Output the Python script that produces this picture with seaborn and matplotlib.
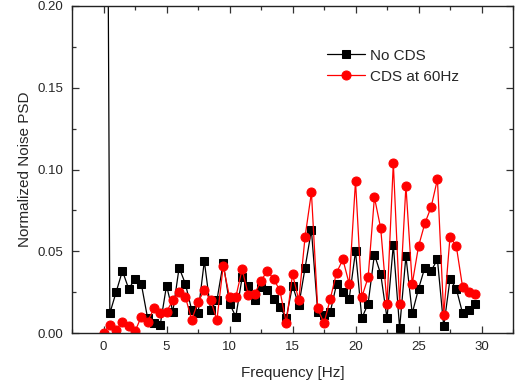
import numpy as np
import pandas as pd
import matplotlib
matplotlib.use("Agg")
import matplotlib.pyplot as plt
import seaborn as sns
from matplotlib.ticker import MultipleLocator

# === Data
freq = np.arange(0, 30, 0.5)

no_cds = [0.80, 0.012, 0.025, 0.038, 0.027, 0.033, 0.030, 0.009, 0.006, 0.005,
          0.029, 0.013, 0.040, 0.030, 0.014, 0.012, 0.044, 0.014, 0.020, 0.043,
          0.018, 0.010, 0.034, 0.029, 0.020, 0.028, 0.026, 0.021, 0.016, 0.009,
          0.029, 0.017, 0.040, 0.063, 0.013, 0.011, 0.013, 0.030, 0.025, 0.021,
          0.050, 0.009, 0.018, 0.048, 0.036, 0.009, 0.054, 0.003, 0.047, 0.012,
          0.027, 0.040, 0.038, 0.045, 0.004, 0.033, 0.027, 0.012, 0.014, 0.018]

cds_60 = [0.000, 0.005, 0.002, 0.007, 0.004, 0.001, 0.010, 0.007, 0.015, 0.012,
          0.013, 0.020, 0.025, 0.022, 0.008, 0.019, 0.026, 0.020, 0.008, 0.041,
          0.022, 0.022, 0.039, 0.023, 0.024, 0.032, 0.038, 0.033, 0.026, 0.006,
          0.036, 0.020, 0.059, 0.086, 0.015, 0.006, 0.021, 0.037, 0.045, 0.030,
          0.093, 0.022, 0.034, 0.083, 0.064, 0.018, 0.104, 0.018, 0.090, 0.030,
          0.053, 0.067, 0.077, 0.094, 0.011, 0.059, 0.053, 0.028, 0.025, 0.024]

series_names = ["No CDS", "CDS at 60Hz"]

df = pd.DataFrame({"Frequency": freq, "No CDS": no_cds, "CDS at 60Hz": cds_60})

# === Style
sns.set_style("ticks")
plt.rcParams['font.family'] = ['Liberation Sans', 'DejaVu Sans']

fig = plt.figure(figsize=(5.17, 3.92), dpi=100)
ax = fig.add_axes([0.1393, 0.1505, 0.8530, 0.8342])

sns.lineplot(data=df, x="Frequency", y="No CDS", ax=ax, color="black",
             marker="s", markersize=5.2, markeredgecolor="black", linewidth=0.9,
             label=series_names[0])
sns.lineplot(data=df, x="Frequency", y="CDS at 60Hz", ax=ax, color="red",
             marker="o", markersize=6.5, markeredgecolor="red", linewidth=0.9,
             label=series_names[1])

ax.set_xlim(-2.5, 32.5)
ax.set_ylim(0, 0.20)
ax.xaxis.set_major_locator(MultipleLocator(5))
ax.xaxis.set_minor_locator(MultipleLocator(2.5))
ax.yaxis.set_major_locator(MultipleLocator(0.05))
ax.yaxis.set_minor_locator(MultipleLocator(0.025))
ax.yaxis.set_major_formatter(matplotlib.ticker.FormatStrFormatter("%.2f"))

ax.tick_params(which="both", direction="in", top=True, right=True,
               labelsize=9.5, color="#333333", width=0.9)
ax.tick_params(which="major", length=5, pad=6)
ax.tick_params(which="minor", length=3)
for sp in ax.spines.values():
    sp.set_visible(True)
    sp.set_linewidth(1.0)
    sp.set_color("#222222")

ax.set_xlabel("Frequency [Hz]", fontsize=11, labelpad=9)
ax.set_ylabel("Normalized Noise PSD", fontsize=11, labelpad=4)

ax.legend(loc="upper left", bbox_to_anchor=(0.578, 0.869), frameon=False,
          fontsize=11, borderpad=0, borderaxespad=0, handlelength=2.5,
          handletextpad=0.35, labelspacing=0.45, numpoints=1)

fig.savefig("out.png", dpi=100)
